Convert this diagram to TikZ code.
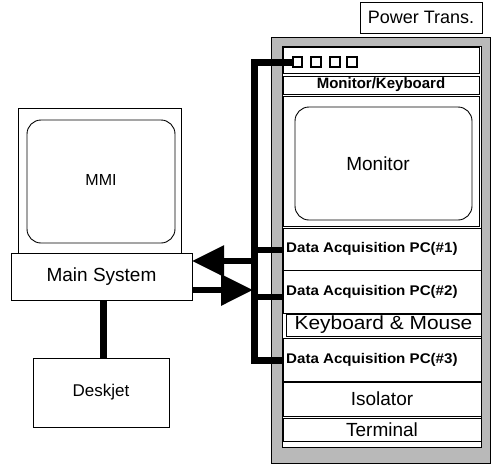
\documentclass[tikz,border=0pt]{standalone}
\usepackage{fontspec}
\setmainfont{Liberation Sans}
\usetikzlibrary{arrows.meta}
\begin{document}
\begin{tikzpicture}[x=1pt,y=-1pt,
  box/.style={draw, line width=0.9pt, fill=white, inner sep=0pt, outer sep=0pt, anchor=north west},
  sq/.style={draw, line width=1.6pt, fill=white, inner sep=0pt, outer sep=0pt, minimum width=9.5pt, minimum height=10pt},
  hatch/.style={draw, line width=0.9pt, fill=gray!55, inner sep=0pt, outer sep=0pt, anchor=north west},
  scr/.style={draw, line width=0.9pt, rounded corners=14pt},
  txt/.style={font=\fontsize{19}{22}\selectfont},
  daq/.style={font=\fontsize{14}{16}\selectfont\bfseries, anchor=west, inner sep=0pt},
  bus/.style={line width=7pt, line join=miter},
  wire/.style={line width=6pt},
  bigarrow/.style={line width=6pt, -{Triangle[length=32pt,width=30pt]}}
]
\useasboundingbox (0,0) rectangle (493,464);

% Power transformer
\node[box, minimum width=122pt, minimum height=31pt] (pt) at (360,2) {};
\node[font=\fontsize{18}{21}\selectfont] at (pt.center) {Power Trans.};

% cabinet
\node[hatch, minimum width=219pt, minimum height=426pt] (cab) at (271,37) {};
\fill[white] (282,46) rectangle (481,447);
\draw[line width=0.9pt] (282,46) rectangle (481,447);

% top strip with squares
\node[box, minimum width=196pt, minimum height=26pt] (strip) at (283,47) {};
\node[sq] (sq1) at (297.5,62) {};
\node[sq] (sq2) at (316,62) {};
\node[sq] (sq3) at (335,62) {};
\node[sq] (sq4) at (352,62) {};

% Monitor/Keyboard
\node[box, minimum width=196pt, minimum height=18pt] (mk) at (283,76) {};
\node[font=\fontsize{15}{17}\selectfont\bfseries, inner sep=0pt] at (mk.center) {Monitor/Keyboard};

% Monitor
\node[box, minimum width=196pt, minimum height=130pt] (mon) at (283,96) {};
\draw[scr] (295,107) rectangle (472,220);
\node[txt] at (378,164) {Monitor};

% Data acquisition PCs
\node[box, minimum width=198pt, minimum height=42pt] (d1) at (283,228) {};
\node[daq] at ([xshift=3pt]d1.west) {\scalebox{1.08}[1]{Data Acquisition PC(\#1)}};
\node[box, minimum width=198pt, minimum height=43pt] (d2) at (283,270) {};
\node[daq] at ([xshift=3pt]d2.west) {\scalebox{1.08}[1]{Data Acquisition PC(\#2)}};
\node[box, minimum width=195pt, minimum height=22pt] (km) at (286,314) {};
\node[txt, inner sep=0pt] at (km.center) {\scalebox{1.1}[1]{Keyboard \& Mouse}};
\node[box, minimum width=198pt, minimum height=43pt] (d3) at (283,338) {};
\node[daq] at ([xshift=3pt]d3.west) {\scalebox{1.08}[1]{Data Acquisition PC(\#3)}};
\node[box, minimum width=198pt, minimum height=34pt] (iso) at (283,382) {};
\node[txt] at (iso.center) {Isolator};
\node[box, minimum width=198pt, minimum height=23pt] (term) at (283,418) {};
\node[txt] at (term.center) {Terminal};

% MMI and main system
\node[box, minimum width=163pt, minimum height=145pt] (mmi) at (18,108) {};
\draw[scr] (27,120) rectangle (175,243);
\node[font=\fontsize{16}{19}\selectfont] at (101,180) {MMI};
\node[box, minimum width=181pt, minimum height=47pt] (main) at (11,253) {};
\node[txt] at (main.center) {Main System};

% Deskjet
\node[box, minimum width=136pt, minimum height=69pt] (desk) at (33,358) {};
\node[font=\fontsize{17}{20}\selectfont] at (desk.center) {Deskjet};
\draw[line width=7pt] (main.south -| 103,0) -- (desk.north -| 103,0);

% bus
\coordinate (bustop) at (254,62);
\coordinate (busbot) at (254,360);
\draw[bus] (sq1.west) -- (bustop) -- (busbot) -- (d3.west |- busbot);
\draw[wire] (254,250) -- (d1.west |- 0,250);
\draw[wire] (254,297) -- (d2.west |- 0,297);

% arrows
\draw[bigarrow] (251,261) -- (main.east |- 0,261);
\draw[bigarrow] (main.east |- 0,290) -- (253,290);
\end{tikzpicture}
\end{document}
